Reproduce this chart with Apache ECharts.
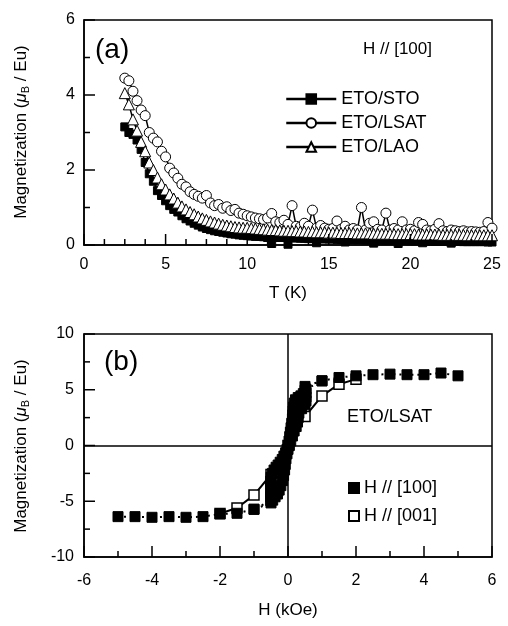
<!DOCTYPE html>
<html>
<head>
<meta charset="utf-8">
<script src="https://cdn.jsdelivr.net/npm/echarts@6/dist/echarts.min.js"></script>
<style>html,body{margin:0;padding:0;background:#fff}#chart{width:508px;height:626px}</style>
</head>
<body>
<div id="chart"></div>
<script>
// (a) M vs T, H // [100]
var temps = [2.5,2.75,3,3.25,3.5,3.75,4,4.25,4.5,4.75,
  5,5.25,5.5,5.75,6,6.25,6.5,6.75,7,7.25,
  7.5,7.75,8,8.25,8.5,8.75,9,9.25,9.5,9.75,
  10,10.25,10.5,10.75,11,11.25,11.5,11.75,12,12.25,
  12.5,12.75,13,13.25,13.5,13.75,14,14.25,14.5,14.75,
  15,15.25,15.5,15.75,16,16.25,16.5,16.75,17,17.25,
  17.5,17.75,18,18.25,18.5,18.75,19,19.25,19.5,19.75,
  20,20.25,20.5,20.75,21,21.25,21.5,21.75,22,22.25,
  22.5,22.75,23,23.25,23.5,23.75,24,24.25,24.5,24.75,
  25];
var mSTO = [3.15,3.0,2.95,2.8,2.55,2.2,1.9,1.7,1.45,1.32,
  1.18,1.05,0.95,0.88,0.78,0.7,0.64,0.58,0.53,0.48,
  0.44,0.41,0.38,0.36,0.34,0.32,0.3,0.29,0.27,0.26,
  0.25,0.24,0.23,0.23,0.22,0.2,0.04,0.21,0.2,0.2,
  0.02,0.19,0.19,0.18,0.18,0.17,0.17,0.06,0.17,0.16,
  0.16,0.16,0.15,0.15,0.08,0.15,0.14,0.14,0.14,0.13,
  0.13,0.05,0.13,0.13,0.12,0.12,0.12,0.04,0.12,0.12,
  0.11,0.11,0.11,0.06,0.11,0.1,0.1,0.1,0.1,0.1,
  0.05,0.1,0.1,0.09,0.09,0.09,0.09,0.09,0.09,0.08,
  0.08];
var mLSAT = [4.45,4.38,4.1,3.85,3.6,3.45,3.0,2.85,2.75,2.5,
  2.35,2.05,1.92,1.78,1.62,1.55,1.42,1.35,1.3,1.25,
  1.32,1.12,1.05,1.08,0.98,1.02,0.92,0.95,0.85,0.82,
  0.78,0.75,0.72,0.7,0.68,0.72,0.84,0.62,0.6,0.66,
  0.55,1.05,0.5,0.48,0.58,0.5,0.93,0.45,0.52,0.45,
  0.42,0.44,0.64,0.42,0.5,0.4,0.44,0.4,1.0,0.4,
  0.58,0.62,0.42,0.4,0.85,0.4,0.44,0.4,0.62,0.4,
  0.42,0.38,0.6,0.55,0.4,0.38,0.42,0.57,0.38,0.36,
  0.4,0.38,0.36,0.38,0.35,0.36,0.35,0.34,0.36,0.6,
  0.45];
var mLAO = [4.05,3.75,3.35,3.05,2.75,2.5,2.2,2.0,1.8,1.62,
  1.48,1.35,1.24,1.13,1.03,0.95,0.88,0.82,0.76,0.71,
  0.67,0.63,0.6,0.57,0.54,0.52,0.5,0.48,0.47,0.46,
  0.46,0.45,0.44,0.43,0.42,0.41,0.4,0.4,0.39,0.38,
  0.38,0.37,0.37,0.36,0.36,0.35,0.35,0.34,0.34,0.34,
  0.33,0.33,0.33,0.32,0.32,0.32,0.32,0.31,0.31,0.31,
  0.31,0.3,0.3,0.3,0.3,0.3,0.29,0.29,0.29,0.29,
  0.29,0.29,0.28,0.28,0.28,0.28,0.28,0.28,0.27,0.27,
  0.27,0.27,0.27,0.27,0.26,0.26,0.26,0.26,0.26,0.26,
  0.26];

// (b) M vs H, ETO/LSAT (null = line break between loop branches)
var field100 = [-5,-4.5,-4,-3.5,-3,-2.5,-2,-1.5,-1,
  -0.5,-0.45,-0.38,-0.31,-0.26,-0.21,-0.16,-0.13,-0.1,-0.08,-0.06,-0.03,0,0.04,0.08,0.13,0.18,0.24,0.28,0.3,0.32,
  0.4,0.5,0.53,0.53,0.53,0.53,
  1,1.5,2,2.5,3,3.5,4,4.5,5, null,
  1,0.5,0.5,0.45,0.38,0.3,0.22,0.18,0.16,0.15,0.14,0.13,0.11,0.09,0.07,0.05,0.03,0.01,
  -0.03,-0.07,-0.12,-0.17,-0.23,-0.29,-0.35,-0.41,-0.46,-0.5,-0.51,-0.51,-0.51,-0.51,-0.51,-0.51,-1];
var m100 = [-6.38,-6.38,-6.44,-6.38,-6.44,-6.38,-6.14,-6.08,-5.72,
  -5.15,-4.9,-4.6,-4.35,-4.0,-3.6,-3.15,-2.7,-2.2,-1.7,-1.2,-0.75,-0.35,0,0.4,0.85,1.3,1.7,2.1,2.5,2.9,
  3.3,3.65,4.0,4.35,4.7,5.05,
  5.8,6.1,6.25,6.35,6.4,6.35,6.35,6.5,6.25, null,
  5.8,5.3,4.95,4.65,4.45,4.3,4.1,3.8,3.45,3.1,2.75,2.4,2.0,1.6,1.2,0.8,0.4,0,
  -0.35,-0.65,-0.95,-1.25,-1.5,-1.75,-1.95,-2.2,-2.5,-2.85,-3.2,-3.55,-3.9,-4.25,-4.6,-4.95,-5.72];
var field001 = [-2,-1.5,-1,-0.5,0,0.5,1,1.5,2];
var m001 = [-6.1,-5.6,-4.45,-2.6,0,2.6,4.45,5.5,5.95];

// major tick values
var ticksT = [0, 5, 10, 15, 20, 25];
var ticksMa = [0, 2, 4, 6];
var ticksH = [-6, -4, -2, 0, 2, 4, 6];
var ticksMb = [-10, -5, 0, 5, 10];

var FONT = '"Liberation Sans", Arial, sans-serif';

function pairs(xs, ys) {
  var out = [];
  for (var i = 0; i < xs.length; i++) {
    out.push(xs[i] === null ? ['-', '-'] : [xs[i], ys[i]]);
  }
  return out;
}

function makeAxis(gridIndex, ticks, margin) {
  return {
    type: 'value', gridIndex: gridIndex,
    min: ticks[0], max: ticks[ticks.length - 1], interval: ticks[1] - ticks[0],
    axisLine: { show: true, onZero: false, lineStyle: { color: '#000', width: 1.5 } },
    axisTick: { show: false },
    minorTick: { show: false },
    axisLabel: { color: '#000', fontSize: 16, fontFamily: FONT, margin: margin },
    splitLine: { show: false },
    minorSplitLine: { show: false }
  };
}

// axis titles are drawn as plain text
var yName = '{a|Magnetization (}{mu|μ}{sub|B}{a| / Eu)}';
var yRich = {
  a: { fontSize: 17, fontFamily: FONT, fill: '#000', lineHeight: 20 },
  mu: { fontSize: 17, fontFamily: FONT, fontStyle: 'italic', fill: '#000', lineHeight: 20 },
  sub: { fontSize: 11, fontFamily: FONT, fill: '#000', lineHeight: 12, verticalAlign: 'bottom' }
};
function axisTitle(text, x, y, rotated) {
  return {
    type: 'text', x: x, y: y, rotation: rotated ? Math.PI / 2 : 0,
    style: {
      text: text, rich: rotated ? yRich : undefined,
      fontSize: 17, fontFamily: FONT, fill: '#000',
      align: 'center', verticalAlign: 'middle'
    }
  };
}

var labels = [
  axisTitle(yName, 21, 132, true),
  axisTitle(yName, 21, 446, true),
  axisTitle('T (K)', 288, 293, false),
  axisTitle('H (kOe)', 288, 610, false),
  { type: 'text', left: 95, top: 36, style: { text: '(a)', fontSize: 28, fontFamily: FONT, fill: '#000' } },
  { type: 'text', left: 363, top: 41, style: { text: 'H // [100]', fontSize: 17, fontFamily: FONT, fill: '#000' } },
  { type: 'text', left: 104, top: 348, style: { text: '(b)', fontSize: 28, fontFamily: FONT, fill: '#000' } },
  { type: 'text', left: 347, top: 408, style: { text: 'ETO/LSAT', fontSize: 18, fontFamily: FONT, fill: '#000' } }
];

var chart = echarts.init(document.getElementById('chart'));
chart.setOption({
  animation: false,
  grid: [
    { left: 84, top: 20, width: 408, height: 225, show: true, borderColor: '#000', borderWidth: 1.5 },
    { left: 84, top: 334, width: 408, height: 223, show: true, borderColor: '#000', borderWidth: 1.5 }
  ],
  xAxis: [makeAxis(0, ticksT, 12), makeAxis(1, ticksH, 16)],
  yAxis: [makeAxis(0, ticksMa, 9), makeAxis(1, ticksMb, 10)],
  legend: [
    {
      data: ['ETO/STO', 'ETO/LSAT', 'ETO/LAO'],
      orient: 'vertical', left: 280, top: 85,
      itemWidth: 50, itemHeight: 12, itemGap: 6,
      lineStyle: { width: 2.5 },
      textStyle: { color: '#000', fontSize: 18, fontFamily: FONT },
      selectedMode: false
    },
    {
      data: [{ name: 'H // [100]', icon: 'rect' }, { name: 'H // [001]', icon: 'rect' }],
      orient: 'vertical', left: 343, top: 474,
      itemWidth: 10, itemHeight: 10, itemGap: 10,
      textStyle: { color: '#000', fontSize: 18, fontFamily: FONT },
      selectedMode: false
    }
  ],
  series: [
    {
      name: 'ETO/STO', type: 'line', xAxisIndex: 0, yAxisIndex: 0,
      data: pairs(temps, mSTO),
      symbol: 'rect', symbolSize: 8,
      lineStyle: { color: '#000', width: 1.5 },
      itemStyle: { color: '#000', borderColor: '#000', borderWidth: 1 }
    },
    {
      name: 'ETO/LSAT', type: 'line', xAxisIndex: 0, yAxisIndex: 0,
      data: pairs(temps, mLSAT),
      symbol: 'circle', symbolSize: 10,
      lineStyle: { color: '#000', width: 1.5 },
      itemStyle: { color: '#fff', borderColor: '#000', borderWidth: 1 }
    },
    {
      name: 'ETO/LAO', type: 'line', xAxisIndex: 0, yAxisIndex: 0,
      data: pairs(temps, mLAO),
      symbol: 'triangle', symbolSize: 11,
      lineStyle: { color: '#000', width: 1.5 },
      itemStyle: { color: '#fff', borderColor: '#000', borderWidth: 1 }
    },
    {
      name: 'H // [001]', type: 'line', xAxisIndex: 1, yAxisIndex: 1,
      data: pairs(field001, m001),
      symbol: 'rect', symbolSize: 10,
      lineStyle: { color: '#000', width: 2 },
      itemStyle: { color: '#fff', borderColor: '#000', borderWidth: 1.5 },
      markLine: {
        silent: true, symbol: 'none', label: { show: false },
        lineStyle: { color: '#000', width: 1.5, type: 'solid' },
        data: [{ xAxis: 0 }, { yAxis: 0 }]
      }
    },
    {
      name: 'H // [100]', type: 'line', xAxisIndex: 1, yAxisIndex: 1,
      data: pairs(field100, m100),
      connectNulls: false,
      symbol: 'rect', symbolSize: 10,
      lineStyle: { color: '#000', width: 2, type: [2, 4] },
      itemStyle: { color: '#000', borderColor: '#000', borderWidth: 1 }
    }
  ]
});

// inward ticks, placed through the chart's own axis scales
function tickLines(gridIndex, xt, yt, xSplit, ySplit) {
  var out = [];
  var xMin = xt[0], yMin = yt[0];
  function push(kind, v, len) {
    var p = chart.convertToPixel({ gridIndex: gridIndex }, kind === 0 ? [v, yMin] : [xMin, v]);
    if (!p) return;
    var shape = kind === 0
      ? { x1: p[0], y1: p[1], x2: p[0], y2: p[1] - len }
      : { x1: p[0], y1: p[1], x2: p[0] + len, y2: p[1] };
    out.push({ type: 'line', silent: true, z: 100, shape: shape, style: { stroke: '#000', lineWidth: 1.5 } });
  }
  function add(kind, list, split) {
    for (var i = 0; i < list.length; i++) {
      push(kind, list[i], 11);
      if (i < list.length - 1) {
        for (var k = 1; k < split; k++) {
          push(kind, list[i] + (list[i + 1] - list[i]) * k / split, 6);
        }
      }
    }
  }
  add(0, xt, xSplit);
  add(1, yt, ySplit);
  return out;
}

var ticks = tickLines(0, ticksT, ticksMa, 4, 2).concat(tickLines(1, ticksH, ticksMb, 2, 2));
chart.setOption({ graphic: labels.concat(ticks) });
</script>
</body>
</html>
